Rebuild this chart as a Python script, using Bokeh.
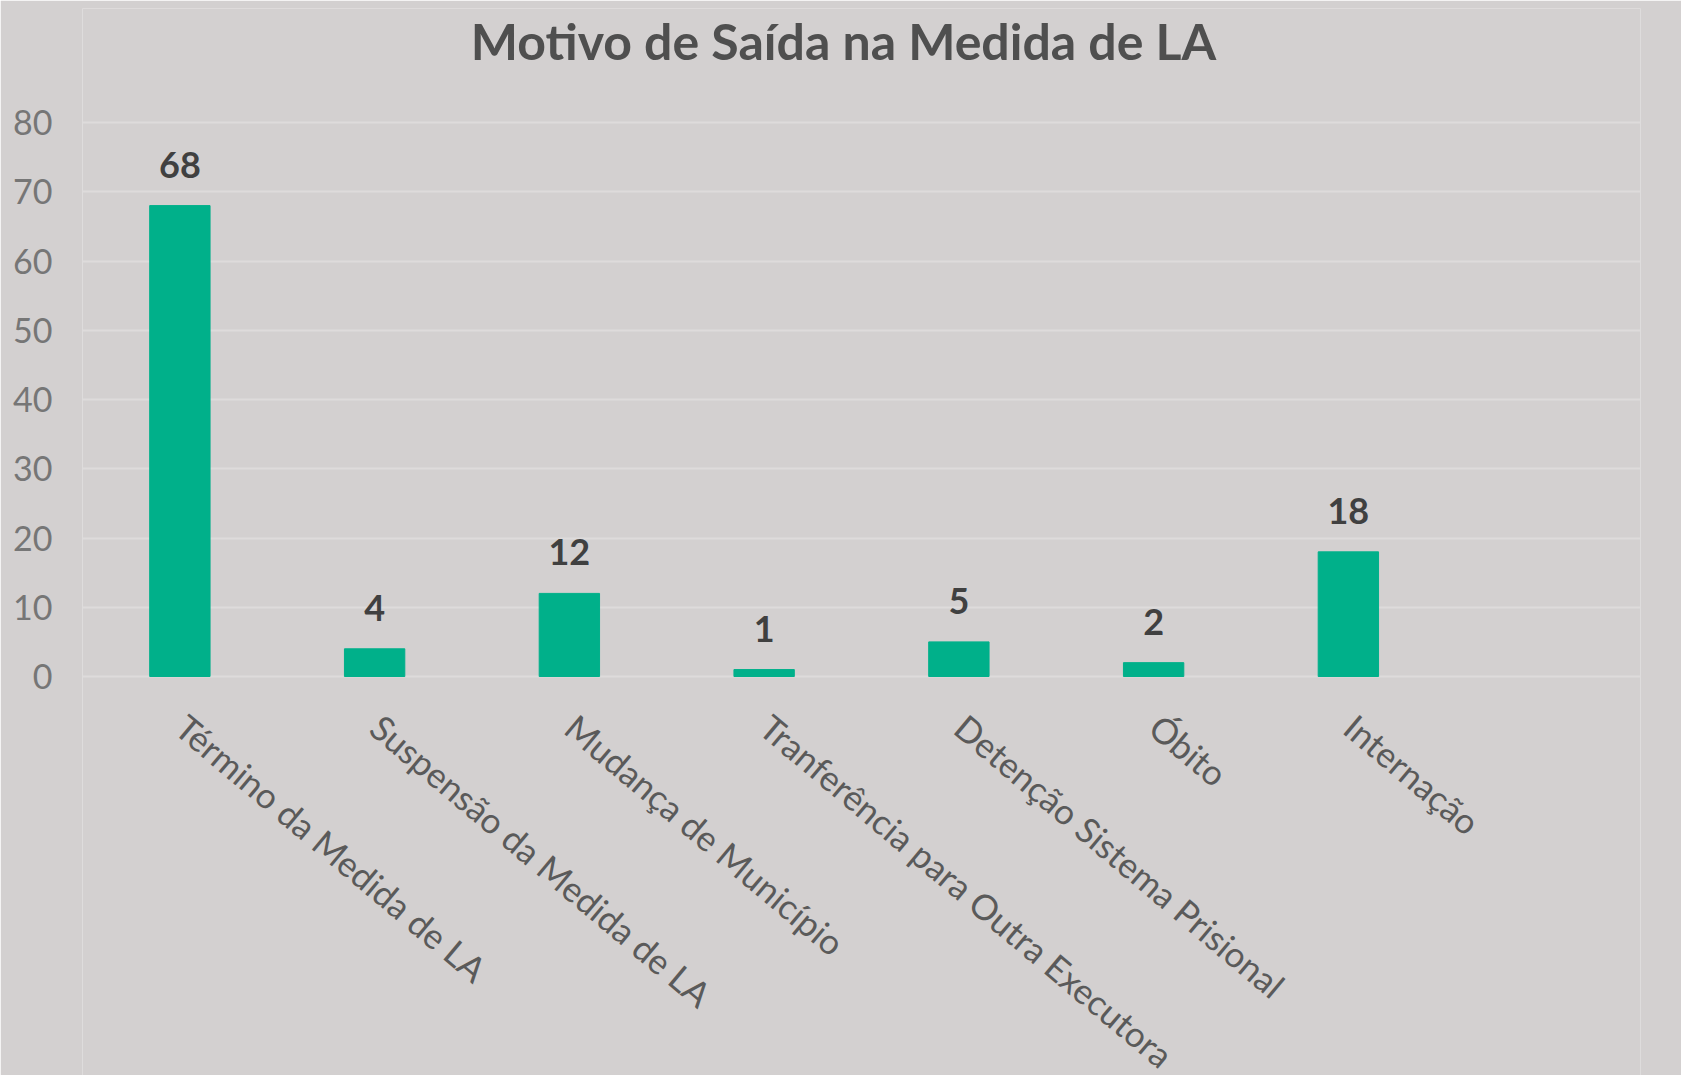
from bokeh.plotting import figure
from bokeh.models import Range1d, FixedTicker, ColumnDataSource
from bokeh.core.properties import value
from bokeh.embed import file_html
from bokeh.resources import INLINE
import math

title_text = "Motivo de Saída na Medida de LA"
categories = [
    "Término da Medida de LA",
    "Suspensão da Medida de LA",
    "Mudança de Município",
    "Tranferência para Outra Executora",
    "Detenção Sistema Prisional",
    "Óbito",
    "Internação",
]
counts = [68, 4, 12, 1, 5, 2, 18]
y_ticks = [0, 10, 20, 30, 40, 50, 60, 70, 80]
y_axis_max = 80
n_slots = 8  # chart leaves room for one extra empty category slot

BG = "#d3d0d0"
BAR = "#00b08a"
FONT = "Lato"

# layout in pixels
W, H = 1681, 1075
LEFT, FRAME_W = 82, 1558
TOP = 8                 # frame top (frame extends above 80 to host the title)
Y80_PX, Y0_PX = 122, 676
TITLE_CX_PX, TITLE_BASE_PX = 843, 40

px_per_unit = (Y0_PX - Y80_PX) / y_axis_max
y_top = (Y0_PX - TOP) / px_per_unit
y_bottom = -(H - Y0_PX) / px_per_unit   # frame extends below 0 to host category labels
x_per_px = n_slots / FRAME_W

xs = [i + 0.5 for i in range(len(categories))]
src = ColumnDataSource(dict(x=xs, y=counts, lbl=[str(v) for v in counts],
                            cat=categories, zero=[0] * len(categories)))

p = figure(width=W, height=H, output_backend="svg", toolbar_location=None,
           x_range=Range1d(0, n_slots), y_range=Range1d(y_bottom, y_top),
           min_border_left=LEFT, min_border_right=W - LEFT - FRAME_W,
           min_border_top=TOP, min_border_bottom=0)
p.background_fill_color = BG
p.border_fill_color = BG
p.outline_line_color = None

# title drawn inside the (extended) frame
p.text(x=[(TITLE_CX_PX - LEFT) * x_per_px],
       y=[(Y0_PX - TITLE_BASE_PX) / px_per_unit],
       text=[title_text], text_align="center", text_baseline="alphabetic",
       text_font=value(FONT), text_font_style="bold", text_font_size="50px",
       text_color="#4f4f4f")

p.vbar(x="x", top="y", width=0.31, source=src, color=BAR)
p.text(x="x", y="y", text="lbl", source=src, y_offset=-41,
       text_align="center", text_baseline="alphabetic",
       text_font=value(FONT), text_font_style="bold", text_font_size="36px",
       text_color="#404040")

# category labels, rotated like the original
p.text(x="x", y="zero", text="cat", source=src, angle=-math.radians(40),
       x_offset=15, y_offset=29, text_align="left", text_baseline="top",
       text_font=value(FONT), text_font_size="35px", text_color="#5a5a5a")

# grid
p.xgrid.grid_line_color = None
p.ygrid.grid_line_color = "#dedbdb"
p.ygrid.grid_line_width = 2
p.ygrid.ticker = FixedTicker(ticks=y_ticks)

# y axis
p.yaxis.ticker = FixedTicker(ticks=y_ticks)
p.yaxis.axis_line_color = None
p.yaxis.major_tick_line_color = None
p.yaxis.minor_tick_line_color = None
p.yaxis.major_tick_out = 0
p.yaxis.minor_tick_out = 0
p.yaxis.major_label_text_font = FONT
p.yaxis.major_label_text_font_size = "34px"
p.yaxis.major_label_text_color = "#767676"
p.yaxis.major_label_standoff = 30

# x axis: labels are drawn above as rotated text
p.xaxis.visible = False

open("out.html", "w").write(file_html(p, INLINE))
